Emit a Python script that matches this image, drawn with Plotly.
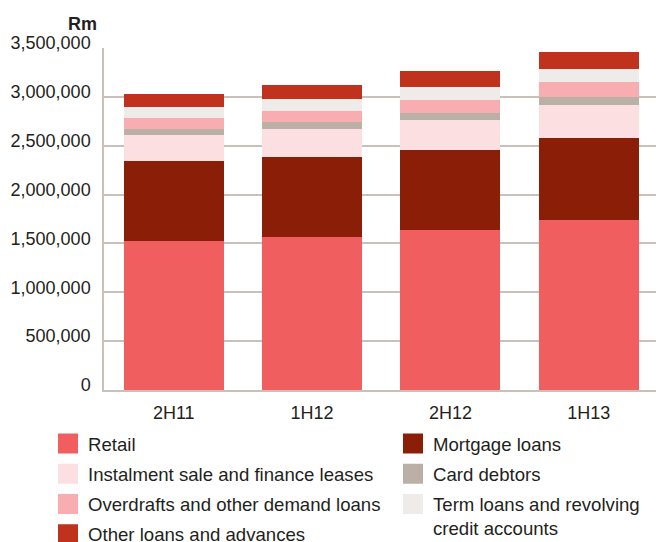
import plotly.graph_objects as go

categories = ["2H11", "1H12", "2H12", "1H13"]
retail = [1520000, 1568000, 1633000, 1735000]
mortgage = [825000, 817000, 824000, 847000]
instalment = [268000, 290000, 310000, 339000]
card = [62000, 72000, 72000, 82000]
overdraft = [113000, 113000, 134000, 154000]
term = [112000, 123000, 133000, 133000]
other = [134000, 143000, 154000, 174000]

y_ticks = [0, 500000, 1000000, 1500000, 2000000, 2500000, 3000000, 3500000]

series = [
    ("Retail", retail, "#F15E60", "legend"),
    ("Mortgage loans", mortgage, "#8B1E06", "legend2"),
    ("Instalment sale and finance leases", instalment, "#FCDFE0", "legend"),
    ("Card debtors", card, "#BAB0A6", "legend2"),
    ("Overdrafts and other demand loans", overdraft, "#F8AEB0", "legend"),
    ("Term loans and revolving<br>credit accounts", term, "#EFEBE8", "legend2"),
    ("Other loans and advances", other, "#C0311E", "legend"),
]

FONT = "Liberation Sans, Arial, Helvetica, sans-serif"
TXT = "#231F20"
GRID = "#C9C1B9"

fig = go.Figure()
for name, vals, color, _ in series:
    fig.add_trace(go.Bar(
        x=categories, y=vals, name=name, width=0.723,
        marker=dict(color=color, line=dict(width=0)),
        showlegend=False,
    ))

# legend-only entries (larger square swatches)
for name, vals, color, lg in series:
    fig.add_trace(go.Scatter(
        x=[categories[0]], y=[None], mode="markers", name=name, legend=lg,
        legendgroup=name,
        marker=dict(symbol="square", size=16, color=color,
                    line=dict(color=color, width=4)),
        showlegend=True, hoverinfo="skip",
    ))

fig.update_layout(
    barmode="stack",
    width=656, height=542,
    margin=dict(l=104, r=0, t=48, b=152, autoexpand=False),
    paper_bgcolor="white", plot_bgcolor="white",
    font=dict(family=FONT, size=18, color=TXT),
    xaxis=dict(
        type="category", categoryorder="array", categoryarray=categories,
        range=[-0.504, 3.486],
        showline=True, linecolor=GRID, linewidth=1.5,
        showgrid=False, ticks="", ticklabelstandoff=6,
        tickfont=dict(size=18, color=TXT),
    ),
    yaxis=dict(
        range=[0, 3500000], tickvals=y_ticks, tickformat=",",
        showline=True, linecolor=GRID, linewidth=1.5,
        showgrid=True, gridcolor=GRID, gridwidth=1.5,
        zeroline=False, ticks="", ticklabelstandoff=8,
        ticklabelshift=-5,
        tickfont=dict(size=18, color=TXT),
    ),
    legend=dict(
        xref="container", yref="container",
        x=48 / 656, y=1 - 425 / 542, xanchor="left", yanchor="top",
        orientation="v", traceorder="grouped", tracegroupgap=3,
        font=dict(family=FONT, size=18.6, color=TXT),
        bgcolor="rgba(0,0,0,0)", borderwidth=0,
    ),
    legend2=dict(
        xref="container", yref="container",
        x=393 / 656, y=1 - 425 / 542, xanchor="left", yanchor="top",
        orientation="v", traceorder="grouped", tracegroupgap=3, valign="top",
        font=dict(family=FONT, size=18.6, color=TXT),
        bgcolor="rgba(0,0,0,0)", borderwidth=0,
    ),
    annotations=[dict(
        text="<b>Rm</b>", xref="paper", yref="paper",
        x=-5 / 552, y=(390 - 23.7) / 342, xanchor="right", yanchor="middle",
        showarrow=False, font=dict(family=FONT, size=18, color=TXT),
    )],
)

fig.write_html(
    "out.html",
    config={"displayModeBar": False},
    post_script="document.body.style.margin='0';document.body.style.overflow='hidden';",
)
